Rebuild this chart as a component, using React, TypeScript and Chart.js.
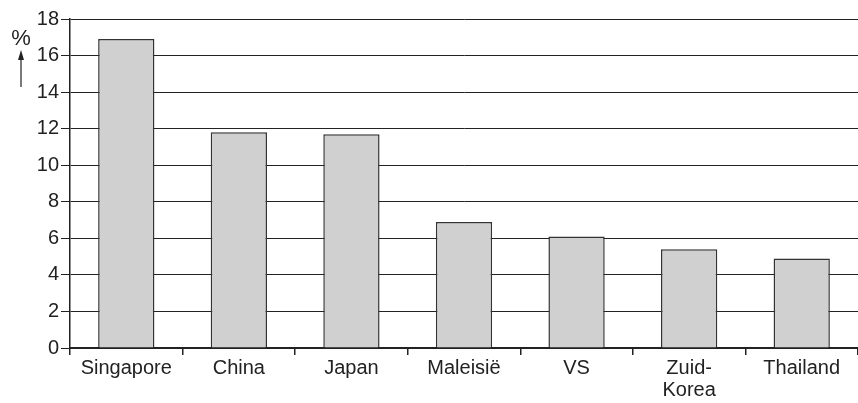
import React, { useEffect, useRef } from "react";
import { Chart, registerables } from "chart.js";

Chart.register(...registerables);

const categories: (string | string[])[] = ["Singapore", "China", "Japan", "Maleisië", "VS", ["Zuid-", "Korea"], "Thailand"];
const values: number[] = [16.9, 11.8, 11.7, 6.9, 6.1, 5.4, 4.9];
const yMin = 0;
const yMax = 18;
const yStep = 2;
const unitLabel = "%";

const FONT = "'Liberation Sans', Arial, sans-serif";

const unitPlugin = {
  id: "unitLabel",
  afterDraw(chart: any) {
    const ctx = chart.ctx;
    ctx.save();
    ctx.fillStyle = "#222";
    ctx.strokeStyle = "#222";
    ctx.font = `22px ${FONT}`;
    ctx.textAlign = "center";
    ctx.textBaseline = "alphabetic";
    ctx.fillText(unitLabel, 21, 45);
    ctx.lineWidth = 1.2;
    ctx.beginPath();
    ctx.moveTo(21, 87);
    ctx.lineTo(21, 56);
    ctx.stroke();
    ctx.beginPath();
    ctx.moveTo(21, 50);
    ctx.lineTo(18, 60);
    ctx.lineTo(24, 60);
    ctx.closePath();
    ctx.fill();
    ctx.restore();
  },
};

export default function App() {
  const ref = useRef<HTMLCanvasElement>(null);
  useEffect(() => {
    if (!ref.current) return;
    const chart = new Chart(ref.current, {
      type: "bar",
      data: {
        labels: categories,
        datasets: [
          {
            data: values,
            backgroundColor: "#d0d0d0",
            borderColor: "#333",
            borderWidth: 1.5,
            barPercentage: 0.5,
            categoryPercentage: 1,
          },
        ],
      },
      options: {
        animation: false,
        responsive: false,
        maintainAspectRatio: false,
        layout: { padding: { top: 19, left: 0, right: 0, bottom: 0 } },
        plugins: { legend: { display: false }, tooltip: { enabled: false } },
        scales: {
          x: {
            offset: true,
            grid: {
              offset: true,
              drawOnChartArea: false,
              drawTicks: true,
              tickLength: 7,
              color: "#222",
              lineWidth: 1.5,
            },
            border: { color: "#222", width: 2 },
            ticks: { color: "#222", font: { family: FONT, size: 20, lineHeight: 1.1 }, padding: 2, maxRotation: 0, autoSkip: false },
            afterFit: (s: any) => { s.height = 55; },
          },
          y: {
            min: yMin,
            max: yMax,
            grid: { color: "#222", lineWidth: 1, tickLength: 9 },
            border: { color: "#222", width: 1.5 },
            ticks: { stepSize: yStep, color: "#222", font: { family: FONT, size: 20 }, padding: 2 },
            afterFit: (s: any) => { s.width = 70; },
          },
        },
      },
      plugins: [unitPlugin],
    });
    return () => chart.destroy();
  }, []);
  return (
    <div style={{ position: "fixed", left: 0, top: 0, width: 858, height: 403, background: "#fff" }}>
      <canvas ref={ref} width={858} height={403} style={{ width: 858, height: 403 }} />
    </div>
  );
}
